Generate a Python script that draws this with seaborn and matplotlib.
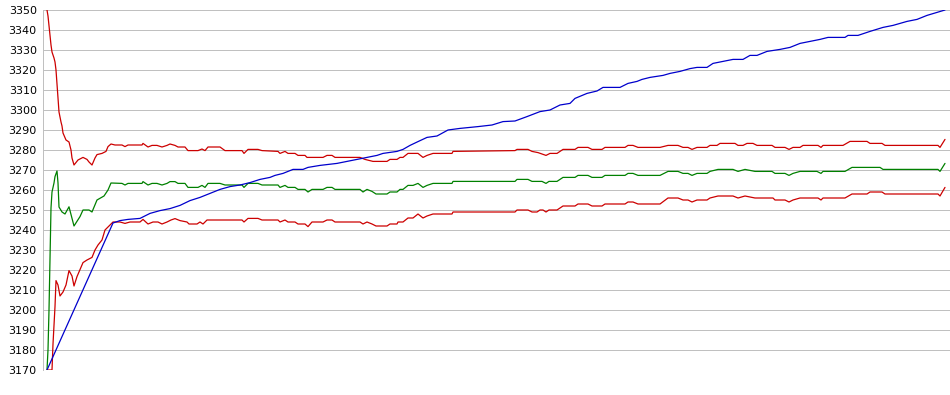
# Convergence-style chart: upper / mean / lower band plus best value per iteration
import numpy as np
import pandas as pd
import seaborn as sns
import matplotlib
matplotlib.use('Agg')
import matplotlib.pyplot as plt

# %%
# values (x = iteration)
upper_x = [0, 1, 2, 3, 4, 5, 7, 8, 9, 10, 11, 12, 14, 15, 16, 19, 22, 24, 25, 27,
           31, 36, 40, 42, 45, 48, 50, 55, 59, 61, 64, 68, 75, 78, 81, 95, 96, 101,
           105, 110, 115, 120, 123, 128, 131, 138, 141, 151, 155, 158, 161, 173, 178,
           195, 197, 201, 211, 215, 231, 233, 238, 241, 248, 251, 258, 260, 276, 280,
           285, 288, 313, 318, 326, 340, 343, 350, 353, 356, 361, 371, 376, 380, 386,
           405, 406, 468, 470, 481, 485, 491, 499, 503, 510, 516, 528, 531, 541, 545,
           555, 558, 578, 581, 586, 591, 613, 621, 631, 636, 641, 645, 650, 660, 663,
           670, 673, 688, 691, 696, 700, 706, 710, 725, 728, 738, 742, 746, 753, 756,
           771, 774, 776, 796, 803, 820, 823, 835, 838, 891, 893, 898]
upper_y = [3350, 3347, 3342, 3337.5, 3332.5, 3329, 3326, 3324, 3320, 3313, 3306, 3299,
           3294, 3292, 3288.5, 3285, 3284, 3280, 3276, 3272.5, 3275, 3276.3, 3275.3,
           3274, 3272.5, 3276, 3277.7, 3278.3, 3279.3, 3281.7, 3283, 3282.5, 3282.5,
           3281.7, 3282.5, 3282.5, 3283.3, 3281.5, 3282.3, 3282.3, 3281.5, 3282.3,
           3283, 3282.3, 3281.5, 3281.5, 3279.7, 3279.7, 3280.5, 3279.7, 3281.5,
           3281.5, 3279.7, 3279.7, 3278.3, 3280.3, 3280.3, 3279.7, 3279.3, 3278.3,
           3279.3, 3278.3, 3278.3, 3277.3, 3277.3, 3276.3, 3276.3, 3277.3, 3277.3,
           3276.3, 3276.3, 3275.3, 3274.3, 3274.3, 3275.3, 3275.3, 3276.3, 3276.3,
           3278.3, 3278.3, 3276.3, 3277.3, 3278.3, 3278.3, 3279.3, 3279.7, 3280.3,
           3280.3, 3279.3, 3278.7, 3277.3, 3278.3, 3278.3, 3280.3, 3280.3, 3281.3,
           3281.3, 3280.3, 3280.3, 3281.3, 3281.3, 3282.3, 3282.3, 3281.3, 3281.3,
           3282.3, 3282.3, 3281.3, 3281.3, 3280.3, 3281.3, 3281.3, 3282.3, 3282.3,
           3283.3, 3283.3, 3282.3, 3282.3, 3283.3, 3283.3, 3282.3, 3282.3, 3281.3,
           3281.3, 3280.3, 3281.3, 3281.3, 3282.3, 3282.3, 3281.3, 3282.3, 3282.3,
           3284.3, 3284.3, 3283.3, 3283.3, 3282.3, 3282.3, 3281.3, 3285.3]

mean_x = [0, 1, 2, 3, 4, 5, 7, 8, 10, 11, 12, 15, 18, 22, 27, 33, 36, 42, 45, 50, 57,
          61, 64, 75, 78, 81, 95, 96, 101, 105, 110, 115, 120, 123, 128, 131, 138, 141,
          151, 155, 158, 161, 173, 178, 195, 197, 201, 211, 215, 231, 233, 238, 241,
          248, 251, 258, 261, 265, 276, 280, 285, 288, 313, 316, 320, 325, 329, 340,
          343, 350, 353, 356, 361, 366, 371, 376, 380, 386, 405, 406, 468, 470, 481,
          485, 495, 499, 502, 510, 516, 528, 531, 541, 545, 555, 558, 578, 581, 586,
          591, 613, 621, 631, 636, 641, 645, 650, 660, 663, 671, 686, 691, 698, 708,
          725, 728, 738, 742, 746, 753, 770, 774, 776, 798, 805, 833, 836, 891, 893, 898]
mean_y = [3170, 3180, 3200, 3225, 3251, 3259, 3263.5, 3266.7, 3269.5, 3263.5, 3251.5,
          3249, 3248, 3251.6, 3242, 3246.7, 3250, 3250, 3249, 3255, 3257, 3260, 3263.5,
          3263.3, 3262.5, 3263.3, 3263.3, 3264.2, 3262.5, 3263.3, 3263.3, 3262.5,
          3263.3, 3264.2, 3264.2, 3263.3, 3263.3, 3261.3, 3261.3, 3262.3, 3261.3,
          3263.3, 3263.3, 3262.5, 3262.5, 3261.3, 3263.3, 3263.3, 3262.5, 3262.5,
          3261.3, 3262.3, 3261.3, 3261.3, 3260.3, 3260.3, 3259, 3260.3, 3260.3,
          3261.3, 3261.3, 3260.3, 3260.3, 3259, 3260.3, 3259.3, 3258, 3258, 3259,
          3259, 3260.3, 3260.3, 3262.3, 3262.3, 3263.3, 3261.3, 3262.3, 3263.3,
          3263.3, 3264.3, 3264.3, 3265.3, 3265.3, 3264.3, 3264.3, 3263.3, 3264.3,
          3264.3, 3266.3, 3266.3, 3267.3, 3267.3, 3266.3, 3266.3, 3267.3, 3267.3,
          3268.3, 3268.3, 3267.3, 3267.3, 3269.3, 3269.3, 3268.3, 3268.3, 3267.3,
          3268.3, 3268.3, 3269.3, 3270.3, 3270.3, 3269.3, 3270.3, 3269.3, 3269.3,
          3268.3, 3268.3, 3267.3, 3268.3, 3269.3, 3269.3, 3268.3, 3269.3, 3269.3,
          3271.3, 3271.3, 3270.3, 3270.3, 3269.3, 3273.3]

lower_x = [0, 5, 6, 7, 8, 9, 11, 13, 16, 19, 22, 25, 27, 30, 36, 40, 45, 48, 51, 55,
           58, 63, 66, 73, 78, 83, 93, 96, 101, 106, 111, 115, 120, 124, 128, 133, 140,
           142, 150, 153, 156, 160, 195, 197, 201, 211, 215, 231, 233, 238, 241, 248,
           251, 258, 261, 265, 276, 280, 285, 288, 313, 316, 320, 325, 329, 340, 343,
           350, 351, 356, 361, 366, 371, 376, 380, 386, 405, 406, 468, 470, 481, 485,
           490, 493, 496, 499, 502, 510, 516, 528, 531, 541, 545, 555, 558, 578, 581,
           586, 591, 613, 621, 631, 636, 641, 645, 650, 660, 663, 671, 686, 691, 698,
           708, 726, 728, 738, 742, 746, 753, 771, 774, 776, 798, 805, 820, 823, 835,
           838, 891, 893, 898]
lower_y = [3170, 3170, 3183, 3192.5, 3201.7, 3214.7, 3212.5, 3207, 3209, 3212.5,
           3219.7, 3217, 3212, 3216.7, 3223.7, 3225, 3226.3, 3230, 3232.5, 3235, 3240,
           3242.5, 3244, 3244, 3243.3, 3244, 3244, 3245.3, 3243, 3244, 3244, 3243,
           3244, 3245, 3245.7, 3244.7, 3244, 3243, 3243, 3244, 3243, 3245, 3245, 3244,
           3245.8, 3245.8, 3245, 3245, 3244, 3245, 3244, 3244, 3243, 3243, 3241.7,
           3244, 3244, 3245, 3245, 3244, 3244, 3243, 3244, 3243, 3242, 3242, 3243,
           3243, 3244, 3244, 3246, 3246, 3248, 3246, 3247, 3248, 3248, 3249, 3249,
           3250, 3250, 3249, 3249, 3250, 3250, 3249, 3250, 3250, 3252, 3252, 3253,
           3253, 3252, 3252, 3253, 3253, 3254, 3254, 3253, 3253, 3256, 3256, 3255,
           3255, 3254, 3255, 3255, 3256, 3257, 3257, 3256, 3257, 3256, 3256, 3255,
           3255, 3254, 3255, 3256, 3256, 3255, 3256, 3256, 3258, 3258, 3259, 3259,
           3258, 3258, 3257, 3261.3]

best_x = [0, 66, 73, 81, 93, 103, 113, 123, 133, 143, 153, 163, 173, 183, 193, 203,
          213, 223, 228, 236, 246, 256, 261, 273, 290, 300, 310, 320, 330, 336, 350,
          356, 363, 371, 380, 390, 401, 413, 431, 445, 456, 468, 480, 493, 503, 513,
          523, 528, 540, 550, 556, 573, 581, 590, 595, 603, 616, 623, 633, 643, 650,
          660, 666, 676, 686, 696, 703, 710, 720, 733, 743, 753, 763, 773, 781, 798,
          801, 811, 823, 836, 846, 860, 870, 880, 898]
best_y = [3170, 3243.5, 3244.7, 3245.3, 3245.8, 3248.3, 3249.7, 3250.7, 3252.3,
          3254.7, 3256.3, 3258.3, 3260.3, 3261.7, 3262.5, 3263.7, 3265.3, 3266.3,
          3267.3, 3268.3, 3270.3, 3270.3, 3271.3, 3272.3, 3273.3, 3274.3, 3275.3,
          3276.3, 3277.3, 3278.3, 3279.3, 3280.3, 3282.3, 3284.2, 3286.3, 3287, 3290,
          3290.8, 3291.7, 3292.5, 3294.2, 3294.5, 3296.7, 3299.2, 3300, 3302.5,
          3303.3, 3305.8, 3308.3, 3309.5, 3311.3, 3311.3, 3313.3, 3314.3, 3315.3,
          3316.3, 3317.3, 3318.3, 3319.3, 3320.7, 3321.3, 3321.3, 3323.3, 3324.3,
          3325.3, 3325.3, 3327.3, 3327.3, 3329.3, 3330.3, 3331.3, 3333.3, 3334.3,
          3335.3, 3336.3, 3336.3, 3337.3, 3337.3, 3339.3, 3341.3, 3342.3, 3344.3,
          3345.3, 3347.3, 3350]

y_ticks = np.arange(3170, 3351, 10)

# %%
# long-form table for seaborn
frames = []
for name, xs, ys in [('upper', upper_x, upper_y), ('mean', mean_x, mean_y),
                     ('lower', lower_x, lower_y), ('best', best_x, best_y)]:
    frames.append(pd.DataFrame({'iteration': xs, 'value': ys, 'series': name}))
data = pd.concat(frames, ignore_index=True)

palette = {'upper': '#cc0000', 'mean': '#008000', 'lower': '#cc0000', 'best': '#0000cc'}

# %%
sns.set_style('white')
fig = plt.figure(figsize=(9.5, 3.95), dpi=100)
ax = fig.add_axes([43 / 950, 25 / 395, 907 / 950, 360 / 395])
sns.lineplot(data=data, x='iteration', y='value', hue='series', palette=palette,
             estimator=None, linewidth=0.9, legend=False, ax=ax)

ax.set_xlim(-4, 903)
ax.set_ylim(3170, 3350)
ax.set_yticks(y_ticks)
ax.set_xticks([])
ax.set_xlabel('')
ax.set_ylabel('')
ax.set_axisbelow(True)
ax.grid(axis='y', color='#c0c0c0', linewidth=0.72, antialiased=False)
for side in ['top', 'right', 'bottom']:
    ax.spines[side].set_visible(False)
ax.spines['left'].set_color('#c0c0c0')
ax.spines['left'].set_linewidth(0.72)
ax.spines['left'].set_antialiased(False)
ax.tick_params(axis='y', length=0, pad=4.5, labelsize=8, labelcolor='#000000')

fig.savefig('out.png', dpi=100)
